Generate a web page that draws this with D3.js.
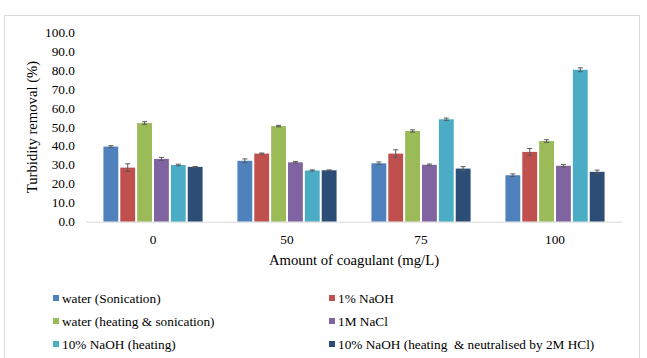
<!DOCTYPE html>
<html>
<head>
<meta charset="utf-8">
<script src="https://cdn.jsdelivr.net/npm/d3@7"></script>
<style>
  body { margin: 0; background: #fff; }
</style>
</head>
<body>
<div id="chart"></div>
<script>
// data
var doses = ["0", "50", "75", "100"];
var series = [
  "water (Sonication)",
  "1% NaOH",
  "water (heating & sonication)",
  "1M NaCl",
  "10% NaOH (heating)",
  "10% NaOH (heating  & neutralised by 2M HCl)"
];
var colors = ["#4f81bd", "#c0504d", "#9bbb59", "#8064a2", "#4bacc6", "#2c4d75"];
// one row per series, one value per dose
var removal = [
  [39.6, 32.1, 30.8, 24.5],
  [28.5, 35.9, 35.9, 36.8],
  [52.0, 50.4, 47.8, 42.5],
  [33.1, 31.3, 30.0, 29.5],
  [29.9, 27.0, 54.0, 80.1],
  [28.9, 27.1, 28.0, 26.3]
];
var errors = [
  [0.5, 1.0, 0.7, 0.7],
  [2.0, 0.3, 2.0, 1.8],
  [0.7, 0.4, 0.6, 0.7],
  [0.8, 0.4, 0.4, 0.7],
  [0.4, 0.3, 0.6, 1.0],
  [0.2, 0.2, 1.0, 0.9]
];
var yTicks = d3.range(0, 101, 10);

var W = 647, H = 358;
var svg = d3.select("#chart").append("svg")
  .attr("width", W).attr("height", H)
  .attr("font-family", "'Times New Roman', 'Liberation Serif', Tinos, 'DejaVu Serif', serif");

// chart border
svg.append("rect")
  .attr("x", 4.5).attr("y", 15.5).attr("width", 635).attr("height", 360)
  .attr("fill", "#fff").attr("stroke", "#d9d9d9");

var x0 = d3.scaleBand().domain(doses).range([86, 622]).paddingInner(0.23).paddingOuter(0.115);
var x1 = d3.scaleBand().domain(d3.range(series.length)).range([0, x0.bandwidth()]).padding(0.12);
var y = d3.scaleLinear().domain([0, 100]).range([221.7, 32]);

// y tick labels
svg.append("g").selectAll("text").data(yTicks).join("text")
  .attr("x", 75).attr("y", d => y(d)).attr("dy", "0.35em")
  .attr("text-anchor", "end").attr("font-size", 13.3)
  .text(d => d.toFixed(1));

// bars
var rows = [];
series.forEach(function(s, i) {
  doses.forEach(function(d, j) {
    rows.push({ s: i, dose: d, v: removal[i][j], e: errors[i][j] });
  });
});

svg.append("g").selectAll("rect").data(rows).join("rect")
  .attr("x", d => x0(d.dose) + x1(d.s))
  .attr("y", d => y(d.v))
  .attr("width", x1.bandwidth())
  .attr("height", d => y(0) - y(d.v))
  .attr("fill", d => colors[d.s]);

// error bars
var eb = svg.append("g").attr("stroke", "#595959").attr("stroke-width", 1);
rows.forEach(function(d) {
  var cx = x0(d.dose) + x1(d.s) + x1.bandwidth() / 2;
  eb.append("line").attr("x1", cx).attr("x2", cx).attr("y1", y(d.v + d.e)).attr("y2", y(d.v - d.e));
  eb.append("line").attr("x1", cx - 2.5).attr("x2", cx + 2.5).attr("y1", y(d.v + d.e)).attr("y2", y(d.v + d.e));
  eb.append("line").attr("x1", cx - 2.5).attr("x2", cx + 2.5).attr("y1", y(d.v - d.e)).attr("y2", y(d.v - d.e));
});

// x axis line
svg.append("line")
  .attr("x1", 86).attr("x2", 622).attr("y1", y(0) + 0.5).attr("y2", y(0) + 0.5)
  .attr("stroke", "#d9d9d9");

// x tick labels
svg.append("g").selectAll("text").data(doses).join("text")
  .attr("x", d => x0(d) + x0.bandwidth() / 2).attr("y", 244)
  .attr("text-anchor", "middle").attr("font-size", 13.3)
  .text(d => d);

// axis titles
svg.append("text")
  .attr("x", 354).attr("y", 265).attr("text-anchor", "middle")
  .attr("font-size", 14.7)
  .text("Amount of coagulant (mg/L)");

svg.append("text")
  .attr("transform", "translate(37,127) rotate(-90)")
  .attr("text-anchor", "middle").attr("font-size", 14.7)
  .text("Turbidity removal (%)");

// legend, two columns
var leg = svg.append("g").selectAll("g").data(series).join("g")
  .attr("transform", (d, i) => "translate(" + (i % 2 ? 329 : 53) + "," + (298 + Math.floor(i / 2) * 23) + ")");
leg.append("rect").attr("x", 0).attr("y", -3).attr("width", 6).attr("height", 6)
  .attr("fill", (d, i) => colors[i]);
leg.append("text").attr("x", 9).attr("y", 0).attr("dy", "0.35em")
  .attr("font-size", 13.3).style("white-space", "pre")
  .text(d => d);
</script>
</body>
</html>
